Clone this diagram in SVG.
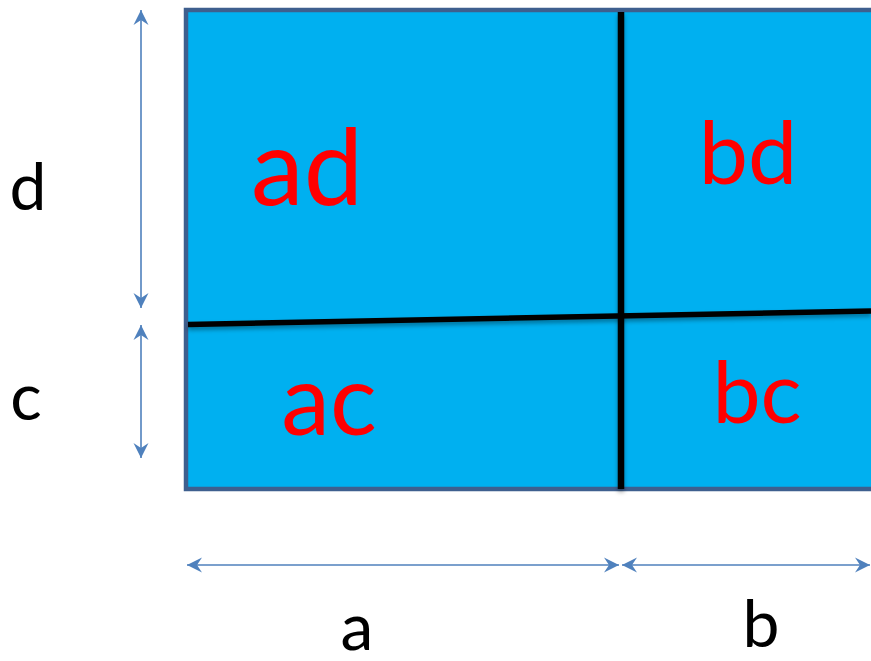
<svg xmlns="http://www.w3.org/2000/svg" width="871" height="661" viewBox="0 0 871 661">
<style>
.cell{fill:red;font-family:Lato,"Liberation Sans",sans-serif;text-anchor:middle}
.lbl{fill:#000;font-family:Lato,"Liberation Sans",sans-serif;text-anchor:middle;font-size:66px}
.dim{stroke:#4F81BD;stroke-width:1.6;fill:none;marker-start:url(#ah);marker-end:url(#ah)}
.div{stroke:#000;fill:none;filter:url(#sh)}
</style>
<defs>
<marker id="ah" markerUnits="userSpaceOnUse" markerWidth="20" markerHeight="20" refX="0" refY="0" viewBox="-14 -8 16 16" orient="auto-start-reverse">
<path d="M0,0 L-12,-6 L-8,0 L-12,6 Z" fill="#4F81BD"/>
</marker>
<filter id="sh" filterUnits="userSpaceOnUse" x="0" y="0" width="871" height="661">
<feDropShadow dx="0" dy="3" stdDeviation="2" flood-color="#000" flood-opacity="0.35"/>
</filter>
</defs>
<g id="board">
<rect x="186" y="10" width="720" height="479" fill="#00B0F0" stroke="#3E5F8E" stroke-width="4.5"/>
</g>
<g id="dividers">
<line class="div" x1="621" y1="12" x2="621" y2="489" stroke-width="6.5"/>
<line class="div" x1="188" y1="324.5" x2="871" y2="311" stroke-width="5.5"/>
</g>
<g id="cell-ad"><text class="cell" x="307" y="205" font-size="106">ad</text></g>
<g id="cell-bd"><text class="cell" x="748" y="184" font-size="88">bd</text></g>
<g id="cell-ac"><text class="cell" x="329" y="435" font-size="98">ac</text></g>
<g id="cell-bc"><text class="cell" x="757" y="423" font-size="86">bc</text></g>
<g id="connectors">
<line class="dim" x1="141" y1="10" x2="141" y2="308"/>
<line class="dim" x1="141" y1="325" x2="141" y2="458"/>
<line class="dim" x1="187" y1="565" x2="619" y2="565"/>
<line class="dim" x1="622" y1="565" x2="870" y2="565"/>
</g>
<g id="label-d"><text class="lbl" x="28" y="210">d</text></g>
<g id="label-c"><text class="lbl" x="26" y="420">c</text></g>
<g id="label-a"><text class="lbl" x="357" y="650">a</text></g>
<g id="label-b"><text class="lbl" x="761" y="647">b</text></g>
</svg>
